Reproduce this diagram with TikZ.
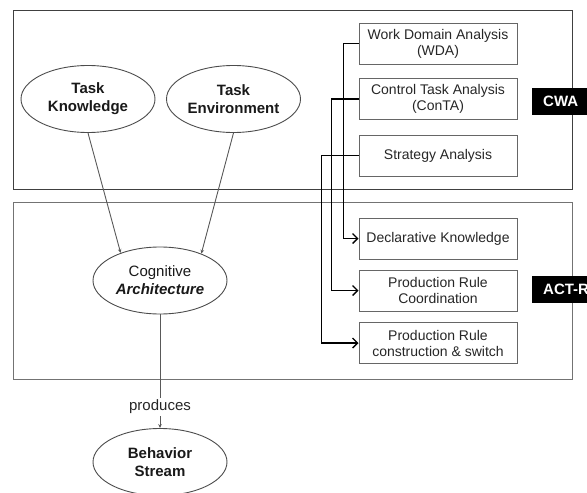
\documentclass[tikz,border=0pt]{standalone}
\usepackage{fontspec}
\setmainfont{Liberation Sans}
\usetikzlibrary{shapes.geometric,arrows.meta}
\begin{document}
\begin{tikzpicture}[x=1pt,y=-1pt,
  frame/.style={draw=black!75,line width=1pt},
  oval/.style={ellipse,draw=black!70,line width=0.9pt,minimum width=134pt,minimum height=67pt,
    inner sep=0pt,align=center,font=\fontsize{15}{18}\selectfont,text=black!90},
  boldoval/.style={oval,font=\fontsize{15}{18}\selectfont\bfseries},
  stagebox/.style={draw=black!60,line width=1pt,minimum width=158pt,minimum height=41pt,
    inner sep=0pt,align=center,font=\fontsize{14}{16}\selectfont,text=black!85},
  tagbox/.style={fill=black,text=white,font=\fontsize{15}{18}\selectfont\bfseries,anchor=west,
    inner xsep=11pt,inner ysep=0pt,minimum height=27pt},
  link/.style={draw=black,line width=1.5pt,-{Straight Barb[length=5pt,width=10pt,line width=1.4pt]}},
  flow/.style={draw=black!65,line width=0.9pt,-{Stealth[length=4pt,width=3.5pt]}},
  plain/.style={draw=black!65,line width=0.9pt}
]
\useasboundingbox (0,0) rectangle (587,493);
\clip (0,0) rectangle (587,493);

% the two layers
\draw[frame] (13,10) rectangle (572,189);
\draw[frame,draw=black!55] (13,202) rectangle (572,379);

% cognitive model
\node[boldoval] (tk) at (88,99) {Task\\Knowledge};
\node[boldoval] (te) at (233.5,99) {Task\\Environment};
\node[oval] (cog) at (160,280.5) {Cognitive\\\textbf{\textit{Architecture}}};
\node[font=\fontsize{15}{18}\selectfont,text=black!85,inner sep=2pt] (prod) at (160,407) {produces};
\node[boldoval] (bs) at (160,462) {Behavior\\Stream};

\draw[flow] (tk.south) -- (cog.145);
\draw[flow] (te.south) -- (cog.33);
\draw[plain] (cog.south) -- (prod.north);
\draw[flow] (prod.south) -- (bs.north);

% CWA phases
\node[stagebox] (wda) at (438,43.5) {Work Domain Analysis\\(WDA)};
\node[stagebox] (conta) at (438,99) {Control Task Analysis\\(ConTA)};
\node[stagebox] (sa) at (438,155.5) {Strategy Analysis};

% ACT-R components
\node[stagebox] (dk) at (438,238.5) {Declarative Knowledge};
\node[stagebox] (prc) at (438,290.5) {Production Rule\\Coordination};
\node[stagebox] (prs) at (438,343) {Production Rule\\construction \& switch};

\draw[link] (wda.west) -- ++(-15,0) |- (dk.west);
\draw[link] (conta.west) -- ++(-27,0) |- (prc.west);
\draw[link] (sa.west) -- ++(-37,0) |- (prs.west);

% layer tags
\node[tagbox] (cwa) at (532,101) {CWA};
\node[tagbox] (actr) at (532,289.5) {ACT-R};
\end{tikzpicture}
\end{document}
